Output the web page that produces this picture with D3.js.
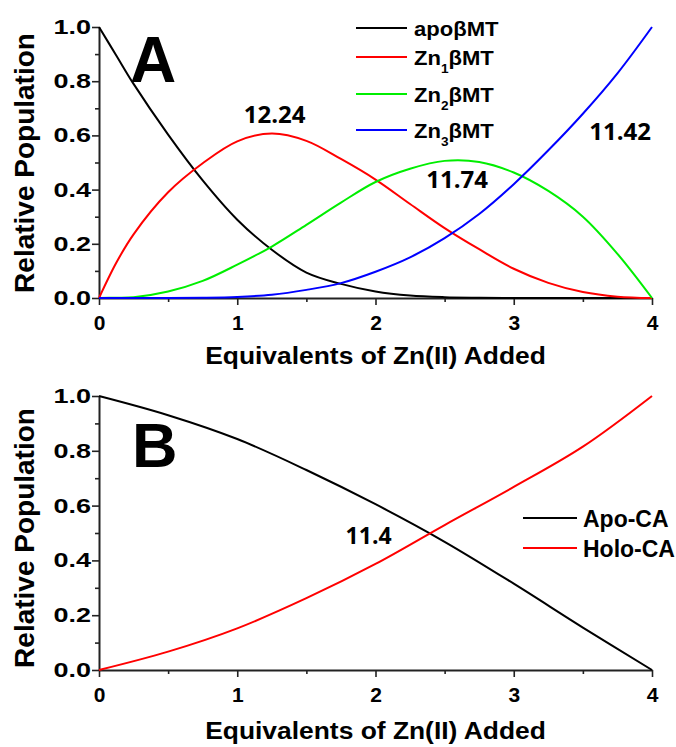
<!DOCTYPE html>
<html lang="en">
<head>
<meta charset="UTF-8">
<title>Relative Population</title>
<script src="https://cdn.jsdelivr.net/npm/d3@7/dist/d3.min.js"></script>
<style>
  body { margin: 0; background: #fff; }
  text { font-family: "Liberation Sans", Arial, sans-serif; font-weight: bold; fill: #000; }
</style>
</head>
<body>
<script>
// panel A data
var xEquivA = [0, 0.125, 0.25, 0.5, 0.75, 1, 1.25, 1.5, 1.75, 2, 2.25, 2.5, 2.75, 3, 3.25, 3.5, 3.75, 4];
var apoMT = [1.0, 0.895, 0.79, 0.603, 0.434, 0.289, 0.178, 0.094, 0.052, 0.024, 0.009, 0.003, 0.001, 0, 0, 0, 0, 0];
var zn1MT = [0, 0.13, 0.235, 0.39, 0.497, 0.578, 0.607, 0.58, 0.513, 0.437, 0.347, 0.258, 0.18, 0.108, 0.056, 0.022, 0.005, 0];
var zn2MT = [0, 0.001, 0.003, 0.024, 0.063, 0.123, 0.19, 0.27, 0.352, 0.428, 0.477, 0.506, 0.502, 0.463, 0.395, 0.3, 0.163, 0];
var zn3MT = [0, 0, 0, 0, 0.001, 0.004, 0.012, 0.03, 0.055, 0.097, 0.15, 0.221, 0.31, 0.42, 0.545, 0.68, 0.829, 1.0];

// panel B data
var xEquivB = [0, 0.5, 1, 1.5, 2, 2.5, 3, 3.5, 4];
var apoCA = [1.0, 0.93, 0.843, 0.73, 0.605, 0.468, 0.315, 0.155, 0];
var holoCA = [0, 0.067, 0.152, 0.262, 0.387, 0.529, 0.668, 0.815, 1.0];

// ticks and labels
var xTicks = [0, 1, 2, 3, 4];
var xMinor = [0.5, 1.5, 2.5, 3.5];
var yTicks = [0, 0.2, 0.4, 0.6, 0.8, 1.0];
var yMinor = [0.1, 0.3, 0.5, 0.7, 0.9];
var legendA = ["apo", "Zn", "Zn", "Zn"];
var legendSubA = ["", "1", "2", "3"];
var legendB = ["Apo-CA", "Holo-CA"];
var notesA = ["12.24", "11.74", "11.42"];
var notesB = ["11.4"];

var width = 676, height = 747;
var left = 99, right = 652;
var colorsA = ["#000000", "#ff0000", "#00ee00", "#0000ff"];
var colorsB = ["#000000", "#ff0000"];

var svg = d3.select("body").append("svg").attr("width", width).attr("height", height);

var x = d3.scaleLinear().domain([0, 4]).range([left, right]);

function drawAxes(y, titleBaseline, titleMid) {
  var g = svg.append("g");
  // minor ticks
  g.append("g").attr("transform", "translate(0," + y(0) + ")")
    .call(d3.axisBottom(x).tickValues(xMinor).tickSize(4).tickFormat(""))
    .call(function (a) { a.select(".domain").remove(); });
  g.append("g").attr("transform", "translate(" + left + ",0)")
    .call(d3.axisLeft(y).tickValues(yMinor).tickSize(4).tickFormat(""))
    .call(function (a) { a.select(".domain").remove(); });
  // x axis
  var xa = g.append("g").attr("transform", "translate(0," + y(0) + ")")
    .call(d3.axisBottom(x).tickValues(xTicks).tickSize(7).tickSizeOuter(0).tickPadding(10).tickFormat(d3.format("d")));
  xa.attr("font-family", null).attr("font-size", 21);
  // y axis
  var ya = g.append("g").attr("transform", "translate(" + left + ",0)")
    .call(d3.axisLeft(y).tickValues(yTicks).tickSize(7).tickSizeOuter(0).tickPadding(1).tickFormat(d3.format(".1f")));
  ya.attr("font-family", null).attr("font-size", 20);
  ya.selectAll("text").attr("x", -8 / 1.35).attr("transform", "scale(1.35,1)");

  g.selectAll(".domain").attr("stroke-width", 2);
  g.selectAll(".tick line").attr("stroke-width", 1.6);
  g.selectAll("g").attr("color", "#222");

  g.append("text")
    .attr("transform", "translate(" + ((left + right) / 2) + "," + titleBaseline + ") scale(1.1,1)")
    .attr("text-anchor", "middle").attr("font-size", 24)
    .text("Equivalents of Zn(II) Added");
  g.append("text")
    .attr("transform", "translate(34," + titleMid + ") rotate(-90)")
    .attr("text-anchor", "middle").attr("font-size", 28)
    .text("Relative Population");
}

function drawLine(xs, ys, y, color) {
  var line = d3.line()
    .x(function (d, i) { return x(xs[i]); })
    .y(function (d) { return y(Math.max(0, d)); })
    .curve(d3.curveCatmullRom.alpha(0.5));
  svg.append("path").datum(ys)
    .attr("fill", "none").attr("stroke", color).attr("stroke-width", 2)
    .attr("d", line);
}

// ---- panel A ----
var yA = d3.scaleLinear().domain([0, 1]).range([298, 27]);
drawAxes(yA, 364, 163);
[apoMT, zn1MT, zn2MT, zn3MT].forEach(function (s, i) { drawLine(xEquivA, s, yA, colorsA[i]); });

svg.append("text").attr("x", 130).attr("y", 82).attr("font-size", 64).text("A");

var legRowsA = [28, 57, 94, 130];
legendA.forEach(function (name, i) {
  svg.append("line").attr("x1", 356).attr("x2", 407).attr("y1", legRowsA[i]).attr("y2", legRowsA[i])
    .attr("stroke", colorsA[i]).attr("stroke-width", 2);
  var t = svg.append("text")
    .attr("transform", "translate(414," + (legRowsA[i] + 7.5) + ") scale(1.05,1)")
    .attr("font-size", 21);
  t.append("tspan").text(name);
  if (legendSubA[i]) {
    t.append("tspan").attr("font-size", 13).attr("dy", 8).text(legendSubA[i]);
    t.append("tspan").attr("dy", -8).text("βMT");
  } else {
    t.append("tspan").text("βMT");
  }
});

var notePosA = [[1.27, 0.646], [2.59, 0.406], [3.77, 0.583]];
notesA.forEach(function (n, i) {
  svg.append("text").attr("x", x(notePosA[i][0])).attr("y", yA(notePosA[i][1]))
    .attr("text-anchor", "middle").attr("font-size", 24)
    .style("font-family", "'Open Sans', sans-serif")
    .text(n);
});

// ---- panel B ----
var yB = d3.scaleLinear().domain([0, 1]).range([670, 396]);
drawAxes(yB, 739, 538);
[apoCA, holoCA].forEach(function (s, i) { drawLine(xEquivB, s, yB, colorsB[i]); });

svg.append("text").attr("x", 132).attr("y", 467).attr("font-size", 63).text("B");

var legRowsB = [518, 548];
legendB.forEach(function (name, i) {
  svg.append("line").attr("x1", 523).attr("x2", 577).attr("y1", legRowsB[i]).attr("y2", legRowsB[i])
    .attr("stroke", colorsB[i]).attr("stroke-width", 2);
  svg.append("text").attr("x", 583).attr("y", legRowsB[i] + 9)
    .attr("font-size", 23).text(name);
});

svg.append("text").attr("x", x(1.95)).attr("y", yB(0.46))
  .attr("text-anchor", "middle").attr("font-size", 23)
  .style("font-family", "'Open Sans', sans-serif")
  .text(notesB[0]);
</script>
</body>
</html>
